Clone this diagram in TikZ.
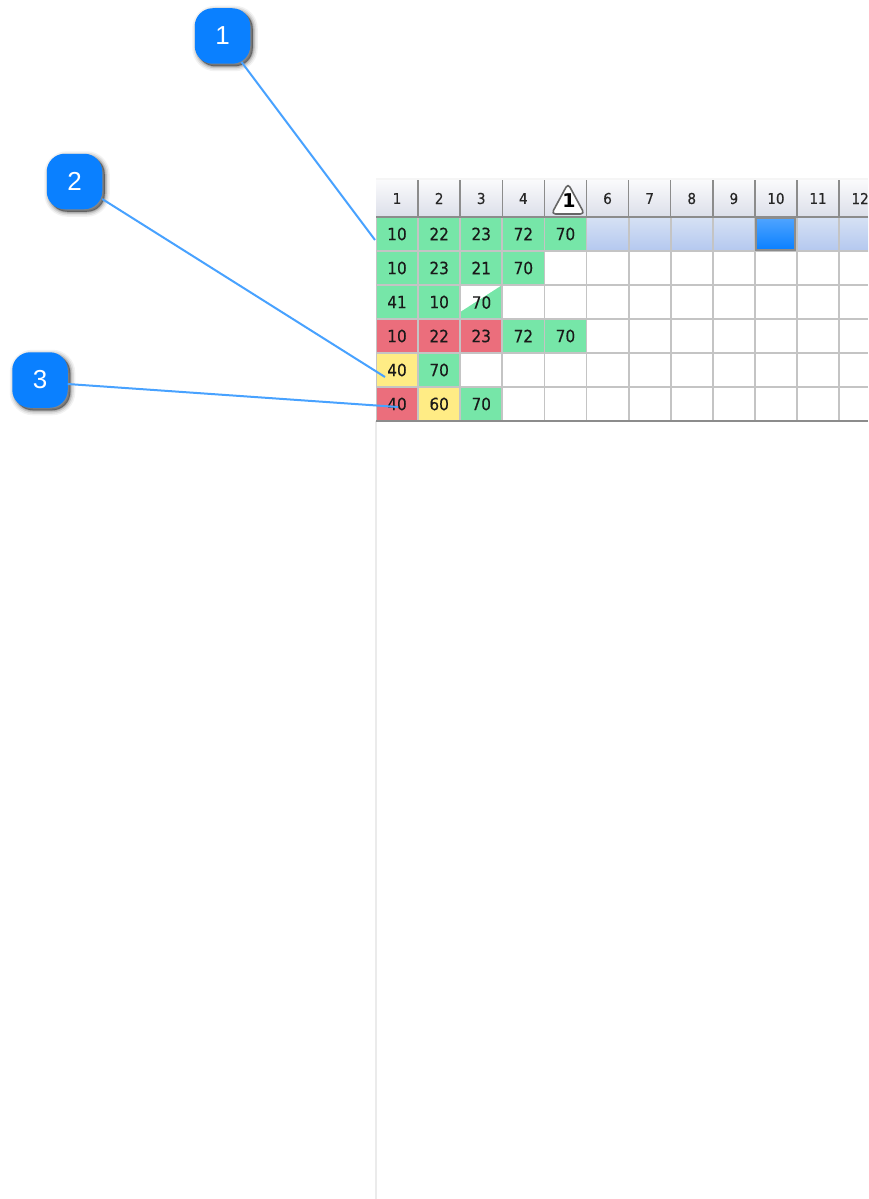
\documentclass[tikz,border=0pt]{standalone}
\usepackage{fontspec}
\setmainfont{Liberation Sans}
\newfontfamily\cellfont[FakeBold=0.3]{DejaVu Sans Condensed}
\newfontfamily\warnfont{DejaVu Sans}
\definecolor{cgreen}{HTML}{76E6A8}
\definecolor{cred}{HTML}{EB6E7C}
\definecolor{cyellow}{HTML}{FFEC85}
\definecolor{gridc}{HTML}{C4C4C4}
\definecolor{headline}{HTML}{8C8C8C}
\definecolor{calloutblue}{HTML}{0A80FF}
\definecolor{leader}{HTML}{48A2FF}
\definecolor{headtop}{HTML}{FAFAFC}
\definecolor{headbot}{HTML}{DCDFE9}
\definecolor{bandtop}{HTML}{D6E1F4}
\definecolor{bandbot}{HTML}{B4C8EF}
\tikzset{
  badge/.style={rectangle,rounded corners=18pt,fill=calloutblue,text=white,minimum width=55.5pt,minimum height=55.5pt,inner sep=0pt,
    font=\fontsize{26}{30}\selectfont,
    preaction={draw=black,draw opacity=.05,fill=none,line width=10pt,transform canvas={xshift=2.5pt,yshift=-2.5pt}},
    preaction={draw=black,draw opacity=.08,fill=none,line width=7pt,transform canvas={xshift=2.5pt,yshift=-2.5pt}},
    preaction={draw=black,draw opacity=.12,fill=none,line width=4pt,transform canvas={xshift=2.5pt,yshift=-2.5pt}},
    preaction={draw=black,draw opacity=.16,fill=black,fill opacity=.4,line width=1.5pt,transform canvas={xshift=2.5pt,yshift=-2.5pt}}},
  leaderline/.style={draw=leader,line width=2pt},
  cell/.style={rectangle,minimum width=42.1pt,minimum height=34pt,inner sep=0pt,text=black!90,font=\cellfont\fontsize{17}{20}\selectfont},
  green/.style={cell,fill=cgreen},
  red/.style={cell,fill=cred},
  yellow/.style={cell,fill=cyellow},
  head/.style={rectangle,minimum width=42.1pt,minimum height=37pt,inner sep=0pt,text=black!85,font=\cellfont\fontsize{15}{18}\selectfont,
    top color=headtop,bottom color=headbot},
  rowband/.style={rectangle,minimum width=42.1pt,minimum height=34pt,inner sep=0pt,top color=bandtop,bottom color=bandbot},
  selcell/.style={rectangle,draw=headline,line width=2.4pt,minimum width=38.5pt,minimum height=31.5pt,inner sep=0pt,top color=calloutblue!72!white,bottom color=calloutblue},
  warn/.style={fill=white,draw=black!60,line width=1.6pt,rounded corners=4pt,line join=round},
}
\begin{document}
\begin{tikzpicture}[x=1pt,y=-1pt]
\clip (0,0) rectangle (868,1199);
\fill[white] (0,0) rectangle (868,1199);
% left edge of the empty sheet
\fill[black!8] (375,421) rectangle (377,1199);
% soft top edge of header
\fill[black!4] (376,178) rectangle (868,180);
% header
\foreach \c/\t in {1/1,2/2,3/3,4/4,5/,6/6,7/7,8/8,9/9,10/10,11/11,12/12,13/}{
  \node[head] (h\c) at ({376+42.1*(\c-1)+21.05},198.5) {\t};
}
% warning triangle
\draw[warn] (568,183.5) -- (584.5,214) -- (551.5,214) -- cycle;
\node[inner sep=0pt,font=\warnfont\bfseries\fontsize{19}{22}\selectfont] (warnone) at (569,201) {1};
% row 1 band
\foreach \c in {6,...,13}{
  \node[rowband] (r1b\c) at ({376+42.1*(\c-1)+21.05},234) {};
}
% cells
\foreach \r/\c/\s/\t in {
 1/1/green/10,1/2/green/22,1/3/green/23,1/4/green/72,1/5/green/70,
 2/1/green/10,2/2/green/23,2/3/green/21,2/4/green/70,
 3/1/green/41,3/2/green/10,3/3/green/,
 4/1/red/10,4/2/red/22,4/3/red/23,4/4/green/72,4/5/green/70,
 5/1/yellow/40,5/2/green/70,
 6/1/red/40,6/2/yellow/60,6/3/green/70}{
  \node[\s] (c\r-\c) at ({376+42.1*(\c-1)+21.05},{217+34*(\r-1)+17}) {\t};
}
% part-filled cell
\fill[white] (460,285) -- (502,285) -- (460,312) -- cycle;
\node[inner sep=0pt,text=black!90,font=\cellfont\fontsize{17}{20}\selectfont] (c3-3t) at (481.5,302.5) {70};
% grid
\foreach \y in {251,285,319,353,387}{ \draw[gridc,line width=1.8pt] (376,\y) -- (868,\y); }
\foreach \c in {1,...,12}{ \draw[gridc,line width=1.8pt] ({376+42.1*\c},217) -- ({376+42.1*\c},421); }
\draw[gridc,line width=1pt] (376,217) -- (376,421);
\draw[headline,line width=1.8pt] (376,421) -- (868,421);
\foreach \c in {1,...,12}{ \draw[headline,line width=1.5pt] ({376+42.1*\c},180) -- ({376+42.1*\c},217); }
\draw[headline,line width=1.5pt] (376,217) -- (868,217);
\node[selcell] (sel) at (775.5,234) {};
% callouts
\node[badge] (b1) at (222.5,36) {1};
\node[badge] (b2) at (74.5,181.5) {2};
\node[badge] (b3) at (40,380) {3};
\coordinate (e1) at (375,240);
\coordinate (e2) at (385,377);
\coordinate (e3) at (398,407);
\draw[leaderline] (b1) ++(19,26) -- (e1);
\draw[leaderline] (b2) ++(27.7,17.5) -- (e2);
\draw[leaderline] (b3) ++(27.7,4) -- (e3);
\end{tikzpicture}
\end{document}
